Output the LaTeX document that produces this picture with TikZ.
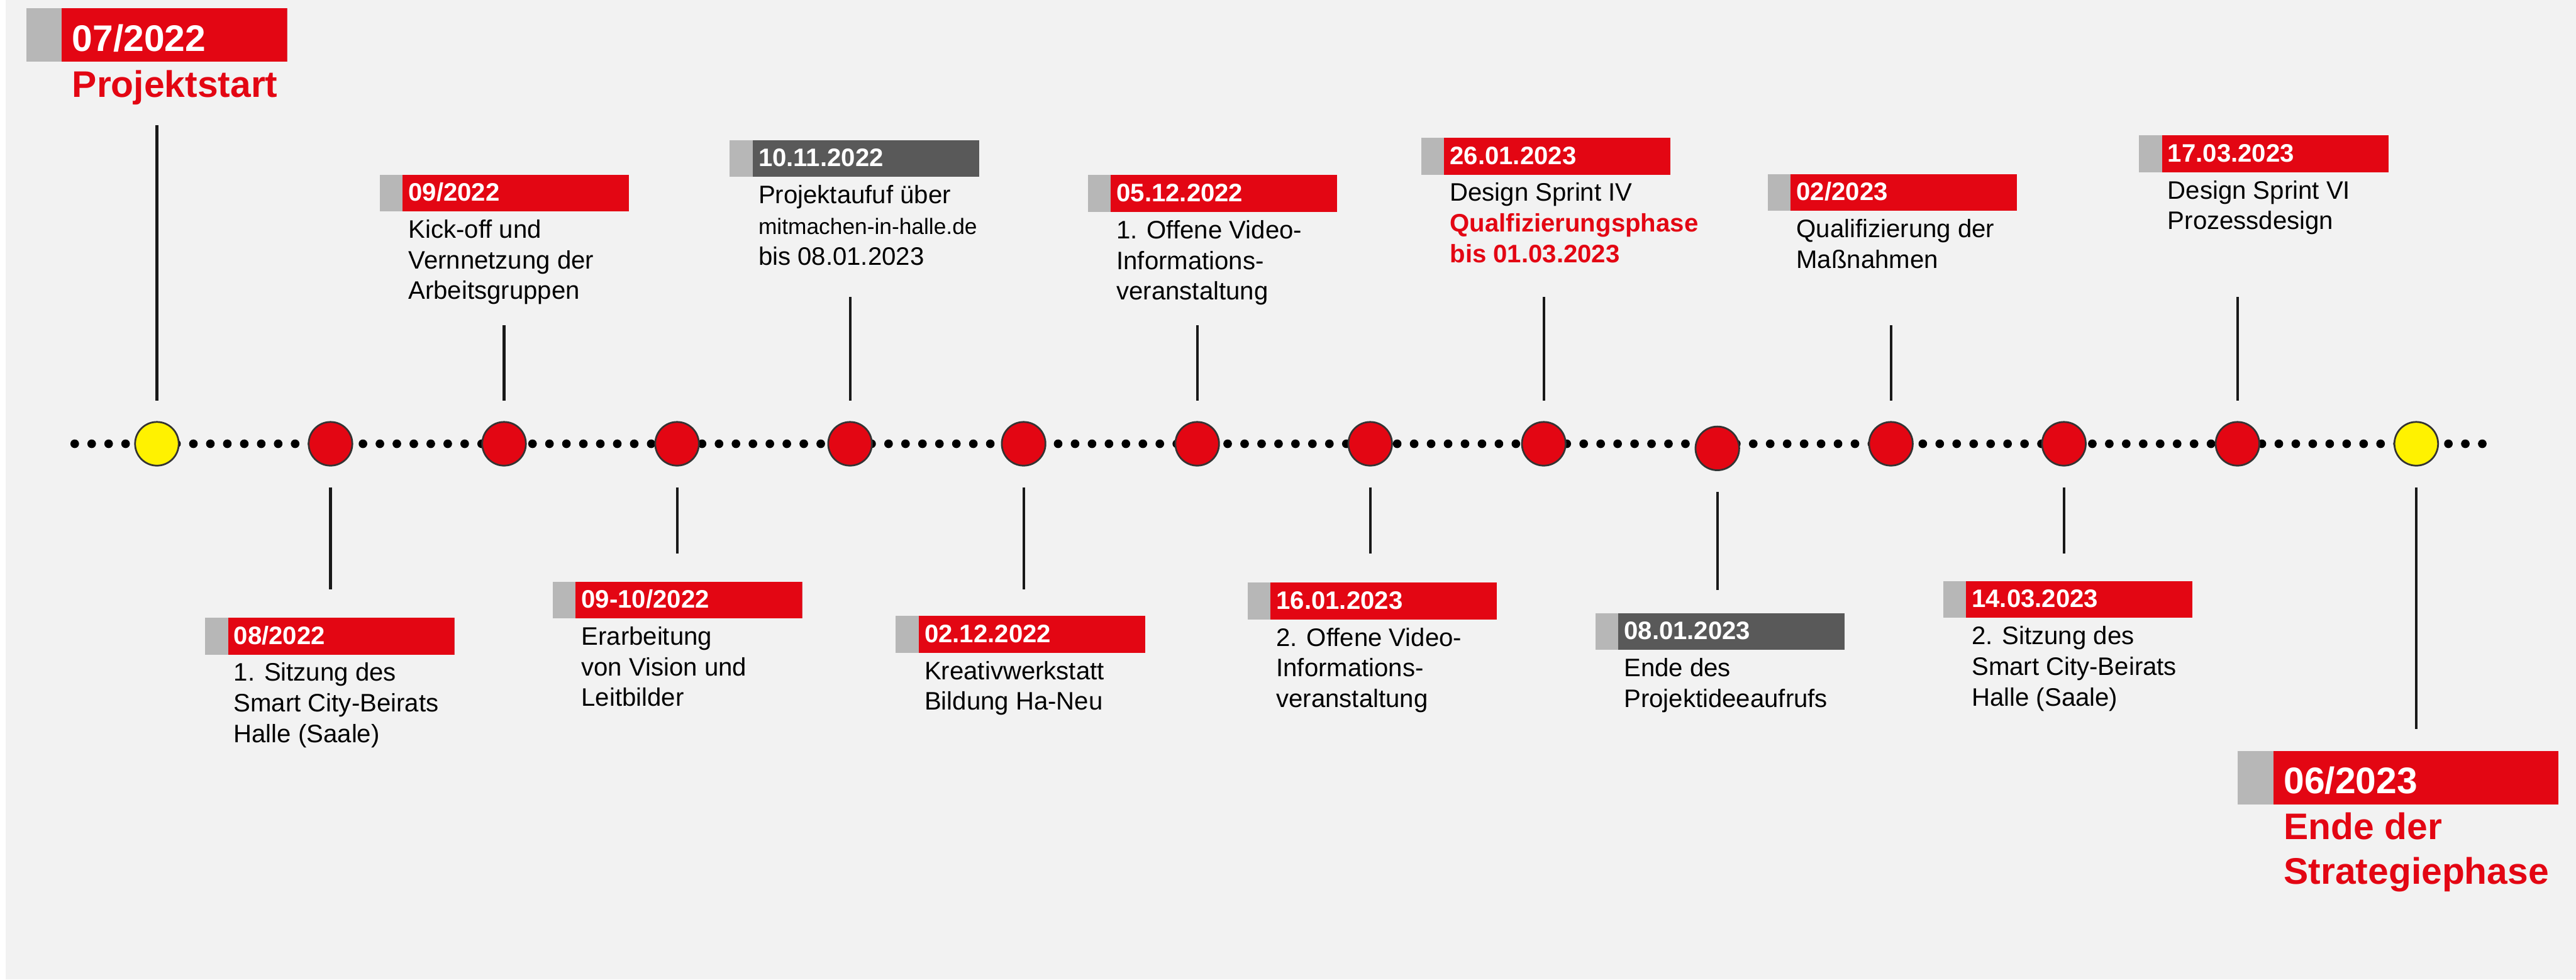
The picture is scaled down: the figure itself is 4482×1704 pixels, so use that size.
\documentclass[tikz,border=0pt]{standalone}
\usepackage{fontspec}
\setmainfont{Liberation Sans}
\usepackage{xcolor}
\usepackage{tikz}
\usetikzlibrary{positioning}
\definecolor{hallered}{RGB}{227, 6, 19}
\definecolor{darkbox}{RGB}{89, 89, 89}
\definecolor{tabgray}{RGB}{183, 183, 183}
\definecolor{bggray}{RGB}{242, 242, 242}
\definecolor{startyellow}{RGB}{255, 242, 0}

\begin{document}
\begin{tikzpicture}[
    x=0.1mm, y=-0.1mm,
    milestone/.style={circle, draw=black!80, line width=0.3mm, fill=hallered, minimum size=7.6mm, inner sep=0pt},
    endpoint/.style={milestone, fill=startyellow},
    datebox/.style={anchor=north west, fill=tabgray, inner xsep=5mm, inner ysep=0pt, minimum height=6.4mm, text width=33.4mm, align=left, text height=2.8mm, text depth=0pt, font=\fontsize{12.5}{15}\selectfont\bfseries, text=white,
        path picture={\fill[#1] ([xshift=4mm]path picture bounding box.south west) rectangle (path picture bounding box.north east);}},
    datebox/.default=hallered,
    bigbox/.style={anchor=north west, fill=tabgray, inner xsep=8mm, inner ysep=0pt, minimum height=9.3mm, text width=29.4mm, align=left, text height=5.5mm, text depth=0pt, font=\fontsize{18.3}{22}\selectfont\bfseries, text=white,
        path picture={\fill[hallered] ([xshift=6.2mm]path picture bounding box.south west) rectangle (path picture bounding box.north east);}},
    desc/.style={anchor=north west, inner sep=0pt, align=left, font=\fontsize{12.5}{15.2}\selectfont},
    bigdesc/.style={desc, font=\fontsize{18.3}{21.9}\selectfont\bfseries, text=hallered},
    stem/.style={line width=0.45mm, black!90},
    dotline/.style={line width=1.5mm, line cap=round, dash pattern=on 0pt off 2.95mm}
]
    \fill[bggray] (10,0) rectangle (4482,1704);
    \useasboundingbox (0,0) rectangle (4482,1704);

    \coordinate (tlstart) at (130,772);
    \coordinate (tlend) at (4330,772);
    \draw[dotline] (tlstart) -- (tlend);

    \node[endpoint] (m1) at (273,772) {};
    \node[milestone] (m2) at (575,772) {};
    \node[milestone] (m3) at (877,772) {};
    \node[milestone] (m4) at (1178,772) {};
    \node[milestone] (m5) at (1479,772) {};
    \node[milestone] (m6) at (1781,772) {};
    \node[milestone] (m7) at (2083,772) {};
    \node[milestone] (m8) at (2384,772) {};
    \node[milestone] (m9) at (2686,772) {};
    \node[milestone] (m10) at (2988,780) {};
    \node[milestone] (m11) at (3290,772) {};
    \node[milestone] (m12) at (3591,772) {};
    \node[milestone] (m13) at (3893,772) {};
    \node[endpoint] (m14) at (4204,772) {};

    \node[bigbox] (d1) at (45,14) {07/2022};
    \node[bigdesc, below right=1.3mm and 8mm of d1.south west] (t1) {Projektstart};

    \node[datebox] (d2) at (356,1074) {08/2022};
    \node[desc, below right=1.3mm and 5mm of d2.south west] (t2) {1. Sitzung des\\Smart City-Beirats\\Halle (Saale)};

    \node[datebox] (d3) at (660,303) {09/2022};
    \node[desc, below right=1.3mm and 5mm of d3.south west] (t3) {Kick-off und\\Vernnetzung der\\Arbeitsgruppen};

    \node[datebox] (d4) at (961,1011) {09-10/2022};
    \node[desc, below right=1.3mm and 5mm of d4.south west] (t4) {Erarbeitung\\von Vision und\\Leitbilder};

    \node[datebox=darkbox] (d5) at (1269,243) {10.11.2022};
    \node[desc, below right=1.3mm and 5mm of d5.south west] (t5) {Projektaufuf über\\{\fontsize{11}{15.2}\selectfont mitmachen-in-halle.de}\\bis 08.01.2023};

    \node[datebox] (d6) at (1558,1071) {02.12.2022};
    \node[desc, below right=1.3mm and 5mm of d6.south west] (t6) {Kreativwerkstatt\\Bildung Ha-Neu};

    \node[datebox] (d7) at (1892,304) {05.12.2022};
    \node[desc, below right=1.3mm and 5mm of d7.south west] (t7) {1. Offene Video-\\Informations-\\veranstaltung};

    \node[datebox] (d8) at (2170,1013) {16.01.2023};
    \node[desc, below right=1.3mm and 5mm of d8.south west] (t8) {2. Offene Video-\\Informations-\\veranstaltung};

    \node[datebox] (d9) at (2472,239) {26.01.2023};
    \node[desc, below right=1.3mm and 5mm of d9.south west] (t9) {Design Sprint IV\\\textcolor{hallered}{\textbf{Qualfizierungsphase}}\\\textcolor{hallered}{\textbf{bis 01.03.2023}}};

    \node[datebox=darkbox] (d10) at (2775,1066) {08.01.2023};
    \node[desc, below right=1.3mm and 5mm of d10.south west] (t10) {Ende des\\Projektideeaufrufs};

    \node[datebox] (d11) at (3075,302) {02/2023};
    \node[desc, below right=1.3mm and 5mm of d11.south west] (t11) {Qualifizierung der\\Maßnahmen};

    \node[datebox] (d12) at (3380,1010) {14.03.2023};
    \node[desc, below right=1.3mm and 5mm of d12.south west] (t12) {2. Sitzung des\\Smart City-Beirats\\Halle (Saale)};

    \node[datebox] (d13) at (3721,235) {17.03.2023};
    \node[desc, below right=1.3mm and 5mm of d13.south west] (t13) {Design Sprint VI\\Prozessdesign};

    \node[bigbox, text width=39.8mm] (d14) at (3893,1306) {06/2023};
    \node[bigdesc, below right=1.3mm and 8mm of d14.south west] (t14) {Ende der\\Strategiephase};

    \coordinate (s1) at (273,218);
    \coordinate (s2) at (575,1025);
    \coordinate (s3) at (877,566);
    \coordinate (s4) at (1178,963);
    \coordinate (s5) at (1479,517);
    \coordinate (s6) at (1781,1025);
    \coordinate (s7) at (2083,566);
    \coordinate (s8) at (2384,963);
    \coordinate (s9) at (2686,517);
    \coordinate (s10) at (2988,1026);
    \coordinate (s11) at (3290,566);
    \coordinate (s12) at (3591,963);
    \coordinate (s13) at (3893,517);
    \coordinate (s14) at (4204,1268);

    \draw[stem] (s1) -- ([yshift=3.6mm]m1.north);
    \draw[stem] ([yshift=-3.6mm]m2.south) -- (s2);
    \draw[stem] (s3) -- ([yshift=3.6mm]m3.north);
    \draw[stem] ([yshift=-3.6mm]m4.south) -- (s4);
    \draw[stem] (s5) -- ([yshift=3.6mm]m5.north);
    \draw[stem] ([yshift=-3.6mm]m6.south) -- (s6);
    \draw[stem] (s7) -- ([yshift=3.6mm]m7.north);
    \draw[stem] ([yshift=-3.6mm]m8.south) -- (s8);
    \draw[stem] (s9) -- ([yshift=3.6mm]m9.north);
    \draw[stem] ([yshift=-3.6mm]m10.south) -- (s10);
    \draw[stem] (s11) -- ([yshift=3.6mm]m11.north);
    \draw[stem] ([yshift=-3.6mm]m12.south) -- (s12);
    \draw[stem] (s13) -- ([yshift=3.6mm]m13.north);
    \draw[stem] ([yshift=-3.6mm]m14.south) -- (s14);
\end{tikzpicture}
\end{document}
